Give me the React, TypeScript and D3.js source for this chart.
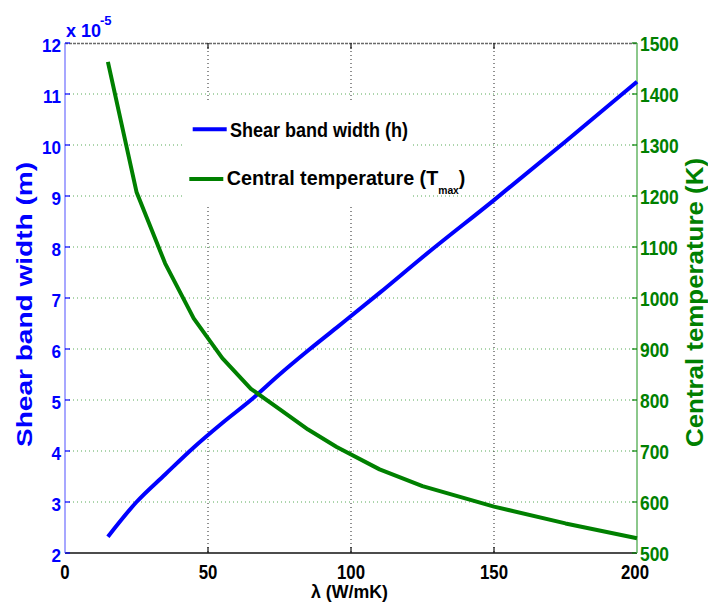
import React from "react";
import * as d3 from "d3";

const lambda = [15, 25, 35, 45, 55, 65, 75, 85, 95, 110, 125, 150, 175, 200];
const shearWidth = [2.32, 3.0, 3.54, 4.07, 4.55, 5.0, 5.5, 5.97, 6.42, 7.1, 7.8, 8.92, 10.07, 11.24]; // x 1e-5 m
const centralTemp = [1463, 1208, 1068, 960, 882, 822, 782, 742, 708, 664, 631, 591, 558, 529];

const xTicks = [0, 50, 100, 150, 200];
const leftTicks = [2, 3, 4, 5, 6, 7, 8, 9, 10, 11, 12];
const rightTicks = [500, 600, 700, 800, 900, 1000, 1100, 1200, 1300, 1400, 1500];

const W = 708, H = 608;
const L = 65, R = 637, T = 43, B = 553;
const BLUE = "#0000ff";
const GREEN = "#008000";
const FONT = "'Liberation Sans', Arial, sans-serif";

export default function App() {
  const x = d3.scaleLinear().domain([0, 200]).range([L, R]);
  const yL = d3.scaleLinear().domain([2, 12]).range([B, T]);
  const yR = d3.scaleLinear().domain([500, 1500]).range([B, T]);

  const blueLine = d3.line<number>().x((_, i) => x(lambda[i])).y((d) => yL(d)).curve(d3.curveMonotoneX)(shearWidth) || "";
  const greenLine = d3.line<number>().x((_, i) => x(lambda[i])).y((d) => yR(d)).curve(d3.curveLinear)(centralTemp) || "";

  return (
    <svg width={W} height={H} style={{ position: "absolute", left: 0, top: 0, background: "#fff" }} fontFamily={FONT}>
      <rect x={0} y={0} width={W} height={H} fill="#fff" />
      {/* horizontal grid */}
      {leftTicks.slice(1, -1).map((t) => (
        <line key={"hg" + t} x1={L} x2={R} y1={yL(t)} y2={yL(t)} stroke="#3c9c3c" strokeWidth={1} strokeDasharray="1,3" opacity={0.85} />
      ))}
      {/* vertical grid */}
      {xTicks.slice(1, -1).map((t) => (
        <line key={"vg" + t} x1={x(t)} x2={x(t)} y1={T} y2={B} stroke="#222" strokeWidth={1} strokeDasharray="1,3" />
      ))}
      {/* legend background */}
      <rect x={183} y={100} width={229} height={105} fill="#fff" />
      {/* axes lines */}
      <line x1={L} x2={R} y1={T + 0.5} y2={T + 0.5} stroke="#6a6a6a" strokeWidth={1.5} strokeDasharray="3,1" />
      <line x1={L} x2={R} y1={B} y2={B} stroke="#111" strokeWidth={1.5} />
      <line x1={L} x2={L} y1={T} y2={B} stroke="#8a8aff" strokeWidth={1.5} />
      <line x1={R} x2={R} y1={T} y2={B} stroke="#8cc88c" strokeWidth={2} />
      {/* ticks */}
      {xTicks.slice(1, -1).map((t) => (
        <g key={"xt" + t}>
          <line x1={x(t)} x2={x(t)} y1={B} y2={B - 6} stroke="#111" strokeWidth={1.2} />
          <line x1={x(t)} x2={x(t)} y1={T} y2={T + 6} stroke="#111" strokeWidth={1.2} />
        </g>
      ))}
      {leftTicks.map((t) => (
        <line key={"lt" + t} x1={L} x2={L + 5} y1={yL(t)} y2={yL(t)} stroke={BLUE} strokeWidth={1.2} />
      ))}
      {rightTicks.map((t) => (
        <line key={"rt" + t} x1={R - 5} x2={R} y1={yR(t)} y2={yR(t)} stroke={GREEN} strokeWidth={1.2} />
      ))}
      {/* tick labels */}
      {xTicks.map((t) => (
        <text key={"xl" + t} transform={`translate(${x(t) - (t === 200 ? 2 : 0)},579) scale(0.8,1)`} textAnchor="middle" fontSize={21} fontWeight="bold" fill="#000">
          {t}
        </text>
      ))}
      {leftTicks.map((t) => (
        <text key={"ll" + t} transform={`translate(61,${yL(t) + 9}) scale(0.9,1)`} textAnchor="end" fontSize={19} fontWeight="bold" fill={BLUE}>
          {t}
        </text>
      ))}
      {rightTicks.map((t) => (
        <text key={"rl" + t} transform={`translate(640,${yR(t) + 8}) scale(0.83,1)`} textAnchor="start" fontSize={21} fontWeight="bold" fill={GREEN}>
          {t}
        </text>
      ))}
      {/* exponent */}
      <text x={66} y={37} fontSize={18} fontWeight="bold" fill={BLUE}>
        x 10
      </text>
      <text x={100} y={25} fontSize={13} fontWeight="bold" fill={BLUE}>
        -5
      </text>
      {/* axis titles */}
      <text x={349.5} y={598} textAnchor="middle" fontSize={18} fontWeight="bold" fill="#000" textLength={77} lengthAdjust="spacingAndGlyphs">
        λ (W/mK)
      </text>
      <text transform="translate(32,304.5) rotate(-90)" textAnchor="middle" fontSize={22} fontWeight="bold" fill={BLUE} textLength={285} lengthAdjust="spacingAndGlyphs">
        Shear band width (m)
      </text>
      <text transform="translate(703,302.5) rotate(-90)" textAnchor="middle" fontSize={23} fontWeight="bold" fill={GREEN} textLength={289} lengthAdjust="spacingAndGlyphs">
        Central temperature (K)
      </text>
      {/* data lines */}
      <path d={blueLine} fill="none" stroke={BLUE} strokeWidth={4} strokeLinejoin="round" />
      <path d={greenLine} fill="none" stroke={GREEN} strokeWidth={4} strokeLinejoin="round" />
      {/* legend */}
      <line x1={192.7} x2={226.7} y1={129.3} y2={129.3} stroke={BLUE} strokeWidth={4} />
      <text x={230} y={137} fontSize={21} fontWeight="bold" fill="#000" textLength={178} lengthAdjust="spacingAndGlyphs">
        Shear band width (h)
      </text>
      <line x1={189.3} x2={223.3} y1={179} y2={179} stroke={GREEN} strokeWidth={4} />
      <text transform="translate(226.7,185) scale(0.94,1)" fontSize={21} fontWeight="bold" fill="#000">
        Central temperature (T
        <tspan fontSize={11} dy={9}>max</tspan>
        <tspan dy={-9}>)</tspan>
      </text>
    </svg>
  );
}
